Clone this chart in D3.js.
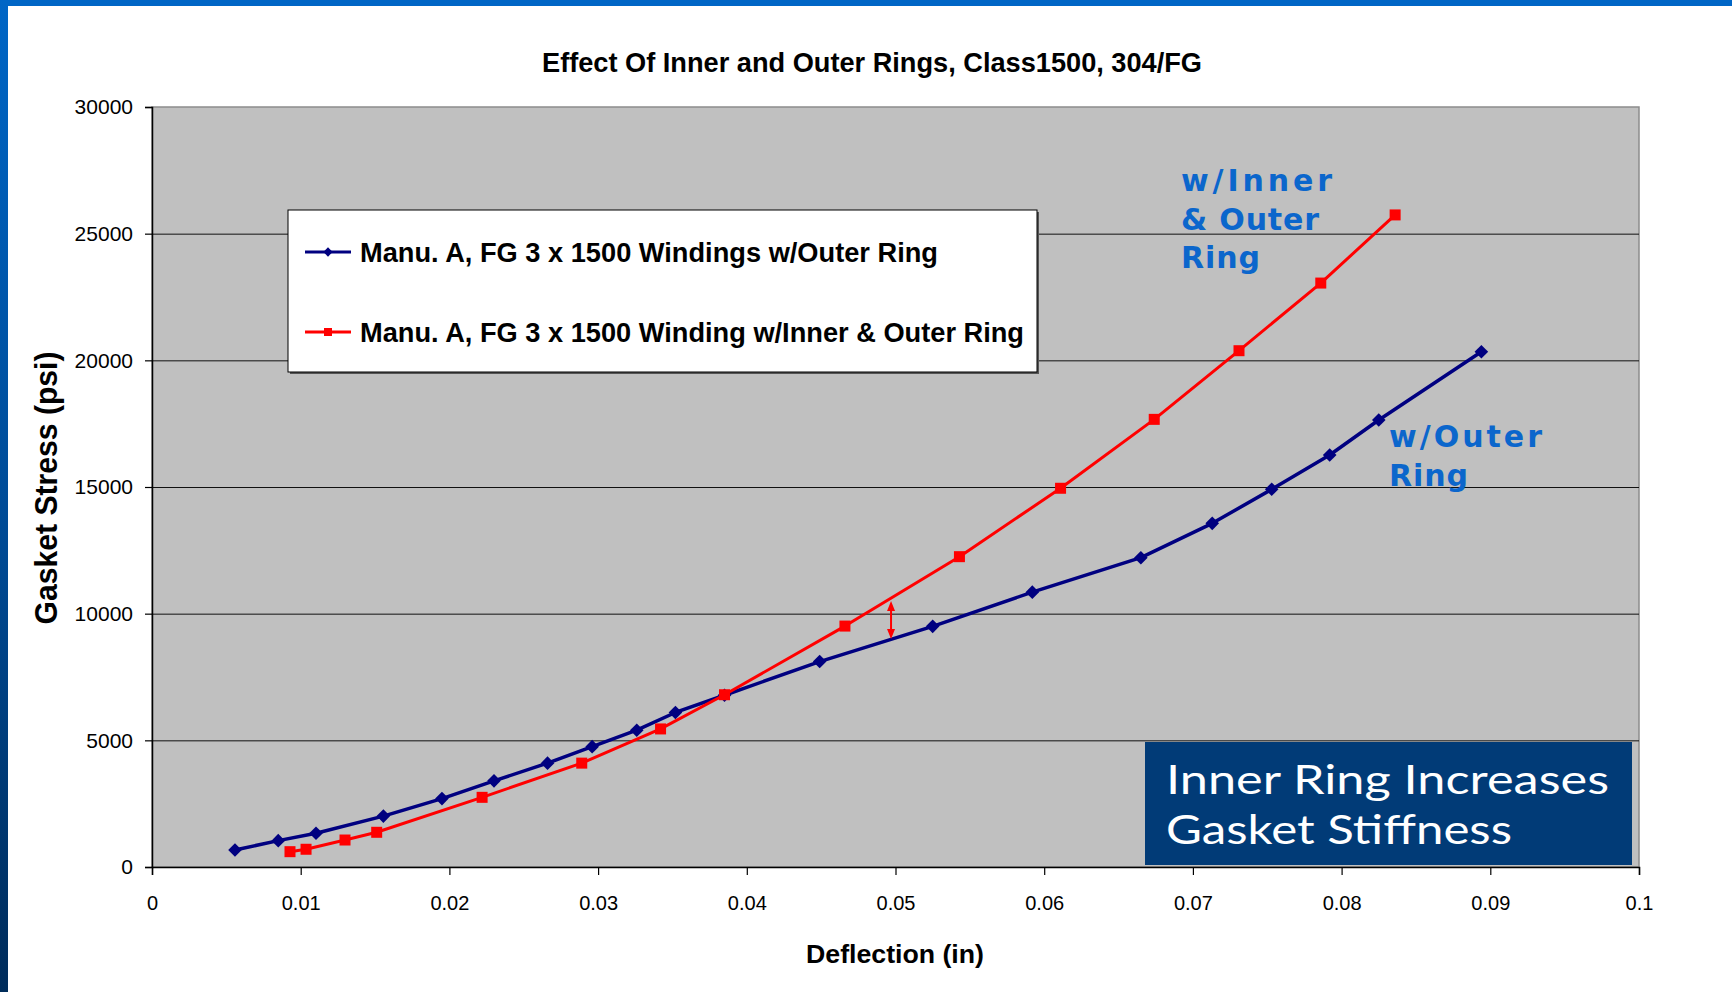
<!DOCTYPE html>
<html>
<head>
<meta charset="utf-8">
<script src="https://cdn.jsdelivr.net/npm/d3@7"></script>
<style>
  html, body { margin: 0; padding: 0; background: #ffffff; }
  svg { display: block; }
</style>
</head>
<body>
<div id="chart"></div>
<script>

// values
var chart_title = "Effect Of Inner and Outer Rings, Class1500, 304/FG";
var x_title = "Deflection (in)";
var y_title = "Gasket Stress (psi)";

var x_ticks = [0, 0.01, 0.02, 0.03, 0.04, 0.05, 0.06, 0.07, 0.08, 0.09, 0.1];
var x_tick_labels = ["0", "0.01", "0.02", "0.03", "0.04", "0.05", "0.06", "0.07", "0.08", "0.09", "0.1"];
var y_ticks = [0, 5000, 10000, 15000, 20000, 25000, 30000];

// Manu. A, outer ring only (navy diamonds)
var outer_name = "Manu. A, FG 3 x 1500 Windings w/Outer Ring";
var outer_x = [0.00558, 0.00849, 0.01103, 0.01556, 0.0195, 0.0230, 0.0266, 0.0296, 0.0326, 0.0352, 0.0385,
               0.0449, 0.0525, 0.0592, 0.0665, 0.0713, 0.0753, 0.0792, 0.0825, 0.0894];
var outer_y = [670, 1040, 1330, 2010, 2700, 3400, 4100, 4750, 5400, 6100, 6780,
               8110, 9500, 10850, 12210, 13565, 14910, 16265, 17645, 20340];

// Manu. A, inner and outer ring (red squares)
var inner_name = "Manu. A, FG 3 x 1500 Winding w/Inner & Outer Ring";
var inner_x = [0.00928, 0.01036, 0.01298, 0.01511, 0.0222, 0.0289, 0.0342, 0.0385, 0.0466, 0.0543, 0.0611,
               0.0674, 0.0731, 0.0786, 0.0836];
var inner_y = [605, 700, 1065, 1370, 2750, 4100, 5450, 6800, 9510, 12250, 14950,
               17670, 20380, 23050, 25740];

// red double arrow between the curves
var arrow_x = 0.0497;
var arrow_y = [10500, 9000];

var note_inner = ["w/Inner", "& Outer", "Ring"];
var note_outer = ["w/Outer", "Ring"];
var box_lines = ["Inner Ring Increases", "Gasket Stiffness"];

var W = 1732, H = 992;
var plot = {left: 152, right: 1639, top: 107, bottom: 867};

var svg = d3.select("#chart").append("svg")
    .attr("width", W)
    .attr("height", H);

var defs = svg.append("defs");
var grad = defs.append("linearGradient")
    .attr("id", "frame_grad")
    .attr("x1", 0).attr("y1", 0).attr("x2", 0).attr("y2", 1);
grad.append("stop").attr("offset", "0%").attr("stop-color", "#0066c6");
grad.append("stop").attr("offset", "55%").attr("stop-color", "#004a94");
grad.append("stop").attr("offset", "100%").attr("stop-color", "#002c5a");

// blue slide frame, top and left
svg.append("rect").attr("x", 0).attr("y", 0).attr("width", W).attr("height", 6).attr("fill", "#0066c6");
svg.append("rect").attr("x", 0).attr("y", 0).attr("width", 8).attr("height", H).attr("fill", "url(#frame_grad)");

var x = d3.scaleLinear().domain([0, 0.1]).range([plot.left, plot.right]);
var y = d3.scaleLinear().domain([0, 30000]).range([plot.bottom, plot.top]);

// plot area
svg.append("rect")
    .attr("x", plot.left).attr("y", plot.top)
    .attr("width", plot.right - plot.left).attr("height", plot.bottom - plot.top)
    .attr("fill", "#c0c0c0")
    .attr("stroke", "#8c8c8c")
    .attr("stroke-width", 1.5);

// gridlines
svg.append("g")
    .selectAll("line")
    .data(y_ticks.filter(function(d) { return d > 0 && d < 30000; }))
  .enter().append("line")
    .attr("x1", plot.left).attr("x2", plot.right)
    .attr("y1", function(d) { return y(d) + 0.5; })
    .attr("y2", function(d) { return y(d) + 0.5; })
    .attr("stroke", "#111")
    .attr("stroke-width", 1);

// axes
var xAxis = svg.append("g")
    .attr("transform", "translate(0," + plot.bottom + ")")
    .call(d3.axisBottom(x)
        .tickValues(x_ticks)
        .tickSize(8)
        .tickPadding(21)
        .tickFormat(function(d, i) { return x_tick_labels[i]; }));

var yAxis = svg.append("g")
    .attr("transform", "translate(" + plot.left + ",0)")
    .call(d3.axisLeft(y)
        .tickValues(y_ticks)
        .tickSize(7)
        .tickPadding(12)
        .tickFormat(d3.format("d")));

[xAxis, yAxis].forEach(function(a) {
  a.select(".domain").attr("stroke", "#000").attr("stroke-width", 1.5);
  a.selectAll(".tick line").attr("stroke", "#000").attr("stroke-width", 1.2);
  a.selectAll(".tick text")
      .attr("fill", "#000")
      .style("font-family", "'Liberation Sans', Arial, sans-serif");
});
xAxis.selectAll(".tick text").style("font-size", "20px");
yAxis.selectAll(".tick text").style("font-size", "21px");

// series lines
var line = d3.line()
    .x(function(d) { return x(d[0]); })
    .y(function(d) { return y(d[1]); });

var outer_pts = d3.zip(outer_x, outer_y);
var inner_pts = d3.zip(inner_x, inner_y);

svg.append("path")
    .datum(outer_pts)
    .attr("d", line)
    .attr("fill", "none")
    .attr("stroke", "#000080")
    .attr("stroke-width", 3.5)
    .attr("stroke-linejoin", "round");

svg.append("g")
    .selectAll("path")
    .data(outer_pts)
  .enter().append("path")
    .attr("d", d3.symbol().type(d3.symbolDiamond2).size(118))
    .attr("transform", function(d) { return "translate(" + x(d[0]) + "," + y(d[1]) + ")"; })
    .attr("fill", "#000080");

svg.append("path")
    .datum(inner_pts)
    .attr("d", line)
    .attr("fill", "none")
    .attr("stroke", "#ff0000")
    .attr("stroke-width", 3)
    .attr("stroke-linejoin", "round");

svg.append("g")
    .selectAll("rect")
    .data(inner_pts)
  .enter().append("rect")
    .attr("x", function(d) { return x(d[0]) - 5.5; })
    .attr("y", function(d) { return y(d[1]) - 5.5; })
    .attr("width", 11)
    .attr("height", 11)
    .attr("fill", "#ff0000");

// double arrow
var ax = x(arrow_x), ay1 = y(arrow_y[0]), ay2 = y(arrow_y[1]);
svg.append("line")
    .attr("x1", ax).attr("x2", ax)
    .attr("y1", ay1 + 4).attr("y2", ay2 - 4)
    .attr("stroke", "#ff0000")
    .attr("stroke-width", 2);
svg.append("path")
    .attr("d", "M" + ax + "," + ay1 + "l-4,10l8,0z M" + ax + "," + ay2 + "l-4,-10l8,0z")
    .attr("fill", "#ff0000");

// legend
var lg = svg.append("g");
lg.append("rect")
    .attr("x", 290).attr("y", 212).attr("width", 749).attr("height", 162)
    .attr("fill", "#555");
lg.append("rect")
    .attr("x", 288).attr("y", 210).attr("width", 749).attr("height", 162)
    .attr("fill", "#ffffff")
    .attr("stroke", "#000")
    .attr("stroke-width", 1);

var legend_rows = [
  {name: outer_name, color: "#000080", marker: "diamond", cy: 252, len: 578},
  {name: inner_name, color: "#ff0000", marker: "square", cy: 332, len: 664}
];
legend_rows.forEach(function(r) {
  lg.append("line")
      .attr("x1", 305).attr("x2", 351)
      .attr("y1", r.cy).attr("y2", r.cy)
      .attr("stroke", r.color)
      .attr("stroke-width", 3);
  if (r.marker == "diamond") {
    lg.append("path")
        .attr("d", d3.symbol().type(d3.symbolDiamond2).size(55))
        .attr("transform", "translate(328," + r.cy + ")")
        .attr("fill", r.color);
  } else {
    lg.append("rect")
        .attr("x", 324).attr("y", r.cy - 4).attr("width", 8).attr("height", 8)
        .attr("fill", r.color);
  }
  lg.append("text")
      .attr("x", 360)
      .attr("y", r.cy + 10)
      .attr("textLength", r.len)
      .attr("lengthAdjust", "spacingAndGlyphs")
      .style("font-family", "'Liberation Sans Narrow', 'Liberation Sans', Arial, sans-serif")
      .style("font-weight", "bold")
      .style("font-size", "27px")
      .attr("fill", "#000")
      .text(r.name);
});

// blue notes next to the curves
var note_style = function(sel) {
  sel.style("font-family", "'DejaVu Sans', Verdana, sans-serif")
     .style("font-weight", "bold")
     .style("font-size", "30px")
     .attr("fill", "#0b66cc")
     .attr("lengthAdjust", "spacing");
};
var inner_lens = [151, 138, 79];
note_inner.forEach(function(t, i) {
  svg.append("text")
      .attr("x", 1181)
      .attr("y", 191 + i * 38.5)
      .attr("textLength", inner_lens[i])
      .call(note_style)
      .text(t);
});
var outer_lens = [153, 79];
note_outer.forEach(function(t, i) {
  svg.append("text")
      .attr("x", 1389)
      .attr("y", 447 + i * 38.5)
      .attr("textLength", outer_lens[i])
      .call(note_style)
      .text(t);
});

// navy message box
svg.append("rect")
    .attr("x", 1145).attr("y", 742)
    .attr("width", 487).attr("height", 123)
    .attr("fill", "#013b77");
var box_lens = [443, 346];
box_lines.forEach(function(t, i) {
  svg.append("text")
      .attr("x", 1166)
      .attr("y", 794 + i * 50)
      .attr("textLength", box_lens[i])
      .attr("lengthAdjust", "spacingAndGlyphs")
      .style("font-family", "Lato, 'Open Sans', sans-serif")
      .style("font-size", "41px")
      .attr("fill", "#ffffff")
      .text(t);
});

// titles
svg.append("text")
    .attr("x", 872)
    .attr("y", 72)
    .attr("text-anchor", "middle")
    .attr("textLength", 660)
    .attr("lengthAdjust", "spacingAndGlyphs")
    .style("font-family", "'Liberation Sans Narrow', 'Liberation Sans', Arial, sans-serif")
    .style("font-weight", "bold")
    .style("font-size", "28px")
    .attr("fill", "#000")
    .text(chart_title);

svg.append("text")
    .attr("x", 895)
    .attr("y", 963)
    .attr("text-anchor", "middle")
    .attr("textLength", 178)
    .attr("lengthAdjust", "spacingAndGlyphs")
    .style("font-family", "'Liberation Sans', Arial, sans-serif")
    .style("font-weight", "bold")
    .style("font-size", "26px")
    .attr("fill", "#000")
    .text(x_title);

svg.append("text")
    .attr("transform", "translate(57,488) rotate(-90)")
    .attr("text-anchor", "middle")
    .attr("textLength", 273)
    .attr("lengthAdjust", "spacingAndGlyphs")
    .style("font-family", "'Liberation Sans', Arial, sans-serif")
    .style("font-weight", "bold")
    .style("font-size", "32px")
    .attr("fill", "#000")
    .text(y_title);

</script>
</body>
</html>
